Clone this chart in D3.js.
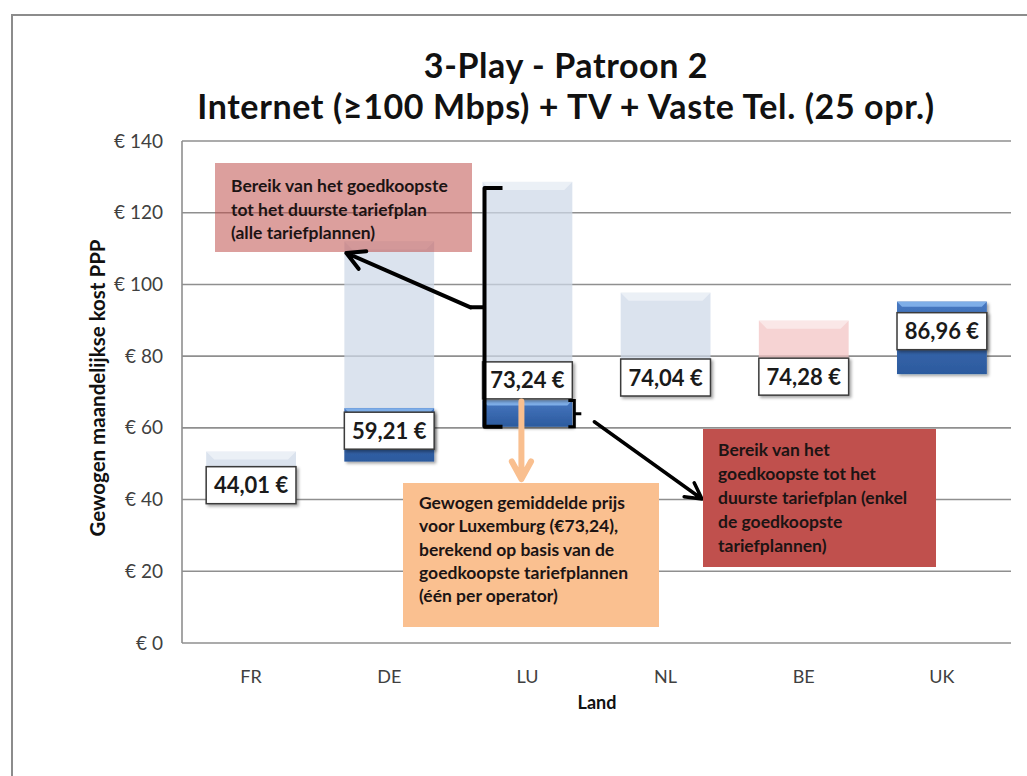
<!DOCTYPE html>
<html>
<head>
<meta charset="utf-8">
<script src="https://cdn.jsdelivr.net/npm/d3@7"></script>
<style>
  body { margin: 0; background: #fff; }
  text { font-family: Lato, "Open Sans", sans-serif; }
</style>
</head>
<body>
<svg id="chart" width="1027" height="776"></svg>
<script>
// data
var countries = ['FR', 'DE', 'LU', 'NL', 'BE', 'UK']
var allMin = [40.0, 50.6, 60.3, 74.04, 74.28, 75.0]
var allMax = [53.4, 112.0, 128.6, 97.7, 89.9, 95.2]
var cheapMin = [44.01, 50.6, 60.3, 74.04, 74.28, 75.0]
var cheapMax = [44.01, 65.5, 67.6, 74.04, 74.28, 95.2]
var avgPrice = [44.01, 59.21, 73.24, 74.04, 74.28, 86.96]
var yTicks = [0, 20, 40, 60, 80, 100, 120, 140]
var lightColors = ['#cdd8e7', '#cdd8e7', '#cdd8e7', '#cdd8e7', '#f2c2c2', '#cdd8e7']

var svg = d3.select('#chart')

var x = d3.scaleBand()
  .domain(countries)
  .range([182, 1011])
  .paddingInner(0.35)
  .paddingOuter(0.175)

var y = d3.scaleLinear()
  .domain([0, 140])
  .range([643, 141])

var bw = x.bandwidth()

var defs = svg.append('defs')
var shadow = defs.append('filter').attr('id', 'shadow')
  .attr('x', '-10%').attr('y', '-10%').attr('width', '130%').attr('height', '140%')
shadow.append('feDropShadow')
  .attr('dx', 2).attr('dy', 2).attr('stdDeviation', 1.5)
  .attr('flood-color', '#000').attr('flood-opacity', 0.35)

var blueGrad = defs.append('linearGradient').attr('id', 'blueGrad')
  .attr('x1', 0).attr('y1', 0).attr('x2', 0).attr('y2', 1)
blueGrad.append('stop').attr('offset', '0%').attr('stop-color', '#4677c0')
blueGrad.append('stop').attr('offset', '100%').attr('stop-color', '#2c5a9e')

// outer frame
svg.append('rect')
  .attr('x', 12).attr('y', 15).attr('width', 1100).attr('height', 900)
  .attr('fill', 'none').attr('stroke', '#8c8c8c').attr('stroke-width', 2)

// title
svg.append('text')
  .attr('x', 566).attr('y', 78)
  .attr('text-anchor', 'middle')
  .attr('font-size', 34).attr('font-weight', 'bold').attr('fill', '#111')
  .attr('letter-spacing', 0.6)
  .text('3-Play - Patroon 2')
svg.append('text')
  .attr('x', 566).attr('y', 119)
  .attr('text-anchor', 'middle')
  .attr('font-size', 34).attr('font-weight', 'bold').attr('fill', '#111')
  .attr('letter-spacing', 0.6)
  .text('Internet (\u2265100 Mbps) + TV + Vaste Tel. (25 opr.)')

// grid
svg.append('g')
  .selectAll('line')
  .data(yTicks)
  .enter()
  .append('line')
  .attr('x1', 182).attr('x2', 1011)
  .attr('y1', function (d) { return y(d) })
  .attr('y2', function (d) { return y(d) })
  .attr('stroke', '#8f8f8f').attr('stroke-width', 1.6)

svg.append('line')
  .attr('x1', 182).attr('x2', 182)
  .attr('y1', y(140)).attr('y2', y(0))
  .attr('stroke', '#8f8f8f').attr('stroke-width', 1.6)

// y axis labels
var yAxis = d3.axisLeft(y)
  .tickValues(yTicks)
  .tickSize(0)
  .tickPadding(19)
  .tickFormat(function (d) { return '\u20ac ' + d })
var gy = svg.append('g').attr('transform', 'translate(182,0)').call(yAxis)
gy.select('.domain').remove()
gy.selectAll('text')
  .attr('font-size', 19).attr('fill', '#404040')
  .style('font-family', 'Lato, sans-serif')

// x axis labels
var xAxis = d3.axisBottom(x).tickSize(0).tickPadding(27)
var gx = svg.append('g').attr('transform', 'translate(0,' + y(0) + ')').call(xAxis)
gx.select('.domain').remove()
gx.selectAll('text')
  .attr('font-size', 18).attr('fill', '#404040')
  .style('font-family', 'Lato, sans-serif')

svg.append('text')
  .attr('x', 597).attr('y', 709)
  .attr('text-anchor', 'middle')
  .attr('font-size', 18).attr('font-weight', 'bold').attr('fill', '#111')
  .text('Land')

svg.append('text')
  .attr('transform', 'translate(105,388) rotate(-90)')
  .attr('text-anchor', 'middle')
  .attr('font-size', 20.5).attr('font-weight', 'bold').attr('fill', '#111')
  .text('Gewogen maandelijkse kost PPP')

var idx = d3.range(countries.length)

// light range bars (all plans)
var light = svg.append('g').selectAll('g')
  .data(idx)
  .enter()
  .append('g')
light.append('rect')
  .attr('x', function (i) { return x(countries[i]) })
  .attr('y', function (i) { return y(allMax[i]) })
  .attr('width', bw)
  .attr('height', function (i) { return y(allMin[i]) - y(allMax[i]) })
  .attr('fill', function (i) { return lightColors[i] })
  .attr('opacity', 0.72)
light.append('path')
  .attr('d', function (i) {
    var x0 = x(countries[i])
    var x1 = x0 + bw
    var t = y(allMax[i])
    return 'M' + x0 + ',' + t + 'L' + x1 + ',' + t + 'L' + (x1 - 8) + ',' + (t + 8) + 'L' + (x0 + 8) + ',' + (t + 8) + 'Z'
  })
  .attr('fill', '#fff').attr('opacity', 0.45)

// dark blue range bars (cheapest plans)
var cheap = svg.append('g').selectAll('g')
  .data(idx.filter(function (i) { return cheapMax[i] > cheapMin[i] }))
  .enter()
  .append('g')
cheap.append('rect')
  .attr('x', function (i) { return x(countries[i]) })
  .attr('y', function (i) { return y(cheapMax[i]) })
  .attr('width', bw)
  .attr('height', function (i) { return y(cheapMin[i]) - y(cheapMax[i]) })
  .attr('fill', 'url(#blueGrad)')
  .attr('filter', 'url(#shadow)')
cheap.append('path')
  .attr('d', function (i) {
    var x0 = x(countries[i])
    var x1 = x0 + bw
    var t = y(cheapMax[i])
    return 'M' + x0 + ',' + t + 'L' + x1 + ',' + t + 'L' + (x1 - 5) + ',' + (t + 5) + 'L' + (x0 + 5) + ',' + (t + 5) + 'Z'
  })
  .attr('fill', '#7eaee8')

// value labels at weighted average
var lab = svg.append('g').selectAll('g')
  .data(idx)
  .enter()
  .append('g')
lab.append('rect')
  .attr('x', function (i) { return x(countries[i]) })
  .attr('y', function (i) { return y(avgPrice[i]) - 18.5 })
  .attr('width', bw)
  .attr('height', 37)
  .attr('fill', '#fff')
  .attr('stroke', '#3a3a3a').attr('stroke-width', 1.5)
  .attr('filter', 'url(#shadow)')
lab.append('text')
  .attr('x', function (i) { return x(countries[i]) + bw / 2 })
  .attr('y', function (i) { return y(avgPrice[i]) + 8 })
  .attr('text-anchor', 'middle')
  .attr('font-size', 22).attr('font-weight', 'bold').attr('fill', '#1a1a1a')
  .text(function (i) { return avgPrice[i].toFixed(2).replace('.', ',') + ' \u20ac' })

// annotations
function textBox (bx, by, w, h, fill, opacity, lines, tx, ty, lh, fs) {
  var g = svg.append('g')
  g.append('rect')
    .attr('x', bx).attr('y', by).attr('width', w).attr('height', h)
    .attr('fill', fill).attr('opacity', opacity)
  g.selectAll('text')
    .data(lines)
    .enter()
    .append('text')
    .attr('x', tx)
    .attr('y', function (d, i) { return ty + i * lh })
    .attr('font-size', fs).attr('font-weight', 'bold').attr('fill', '#1c1414')
    .text(function (d) { return d })
  return g
}

textBox(215, 163, 257, 89, '#c0504d', 0.55,
  ['Bereik van het goedkoopste', 'tot het duurste tariefplan', '(alle tariefplannen)'],
  231, 192, 23.5, 17.5)

var lu = countries.indexOf('LU')
var luX = x('LU')
var bTop = y(allMax[lu]) + 6
var bBot = y(allMin[lu])
var bMid = (bTop + bBot) / 2
var bx = luX + 2

// big bracket on LU (all plans)
svg.append('path')
  .attr('d', 'M' + (bx + 18) + ',' + bTop + 'H' + bx + 'V' + bBot + 'H' + (bx + 18) +
    'M' + bx + ',' + bMid + 'H' + (bx - 14))
  .attr('fill', 'none').attr('stroke', '#000').attr('stroke-width', 4)
  .attr('stroke-linejoin', 'round')

function arrow (x0, y0, x1, y1, color, width, head) {
  var a = Math.atan2(y1 - y0, x1 - x0)
  var p1 = [x1 - head * Math.cos(a - 0.5), y1 - head * Math.sin(a - 0.5)]
  var p2 = [x1 - head * Math.cos(a + 0.5), y1 - head * Math.sin(a + 0.5)]
  svg.append('path')
    .attr('d', 'M' + x0 + ',' + y0 + 'L' + x1 + ',' + y1 +
      'M' + p1[0] + ',' + p1[1] + 'L' + x1 + ',' + y1 + 'L' + p2[0] + ',' + p2[1])
    .attr('fill', 'none').attr('stroke', color).attr('stroke-width', width)
    .attr('stroke-linejoin', 'round').attr('stroke-linecap', 'round')
}

arrow(bx - 14, bMid, x('DE') + 2, 253, '#000', 4, 20)

// small brace on LU (cheapest plans)
var sTop = y(cheapMax[lu])
var sBot = y(cheapMin[lu])
var sx = luX + bw + 2
svg.append('path')
  .attr('d', 'M' + (sx - 6) + ',' + sTop + 'H' + sx + 'V' + sBot + 'H' + (sx - 6) +
    'M' + sx + ',' + ((sTop + sBot) / 2) + 'H' + (sx + 7))
  .attr('fill', 'none').attr('stroke', '#000').attr('stroke-width', 3)

arrow(sx + 20, sBot - 5, 702, 499, '#000', 3.5, 18)

// orange arrow from LU average
arrow(luX + bw / 2 - 6, sTop + 1, luX + bw / 2 - 6, 479, '#f9bf8f', 6, 20)

textBox(403, 483, 256, 144, '#fac090', 1,
  ['Gewogen gemiddelde prijs', 'voor Luxemburg (\u20ac73,24),', 'berekend op basis van de',
    'goedkoopste tariefplannen', '(\u00e9\u00e9n per operator)'],
  419, 509, 23.3, 17.5)

textBox(703, 429, 233, 138, '#c0504d', 1,
  ['Bereik van het', 'goedkoopste tot het', 'duurste tariefplan (enkel',
    'de goedkoopste', 'tariefplannen)'],
  718, 456, 24, 17.5)
</script>
</body>
</html>
